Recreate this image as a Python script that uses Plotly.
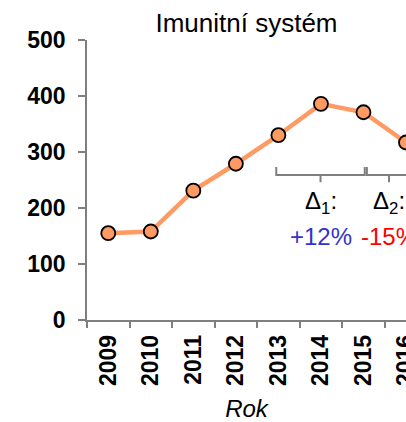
import plotly.graph_objects as go

years = ["2009", "2010", "2011", "2012", "2013", "2014", "2015", "2016"]
values = [155, 158, 231, 279, 330, 386, 371, 317]
delta_labels = ["Δ<sub>1</sub>:", "Δ<sub>2</sub>:"]
delta_values = ["+12%", "-15%"]
delta_colors = ["#3333CC", "#FF0000"]
y_ticks = [0, 100, 200, 300, 400, 500]

ORANGE = "#FF9A62"
GREY = "#7F7F7F"
FONT = "Liberation Sans, Arial, sans-serif"

fig = go.Figure()
fig.add_trace(go.Scatter(
    x=years, y=values, mode="lines+markers",
    line=dict(color=ORANGE, width=4.5),
    marker=dict(size=14, color=ORANGE, line=dict(color="black", width=1.8)),
    cliponaxis=True, showlegend=False,
))

# brackets (data coords)
brackets = [(3.95, 6.03), (6.08, 7.12)]
y_top, y_bar, y_tick = 273, 259, 246
for (x0, x1) in brackets:
    xm = (x0 + x1) / 2
    fig.add_shape(type="path",
                  path=f"M {x0},{y_top} L {x0},{y_bar} L {x1},{y_bar} L {x1},{y_top}",
                  xref="x", yref="y", line=dict(color=GREY, width=2))
    fig.add_shape(type="line", x0=xm, x1=xm, y0=y_bar, y1=y_tick,
                  xref="x", yref="y", line=dict(color=GREY, width=2))

for (x0, x1), lab, val, col in zip(brackets, delta_labels, delta_values, delta_colors):
    xm = (x0 + x1) / 2
    fig.add_annotation(x=xm, y=209, xref="x", yref="y", text=lab, showarrow=False,
                       font=dict(family=FONT, size=24, color="black"), yanchor="middle")
    fig.add_annotation(x=xm, y=149, xref="x", yref="y", text=val, showarrow=False,
                       font=dict(family=FONT, size=24, color=col), yanchor="middle")

fig.update_layout(
    width=406, height=422,
    margin=dict(l=87, r=0, t=40, b=102),
    paper_bgcolor="white", plot_bgcolor="white",
    font=dict(family=FONT, color="black"),
    title=dict(text="Imunitní systém", x=0.5, xref="paper", xanchor="center",
               y=1 - 23 / 422, yref="container", yanchor="middle",
               font=dict(family=FONT, size=26, color="black")),
    xaxis=dict(
        type="category", range=[-0.5, 7.0], automargin=False,
        showline=True, linecolor=GREY, linewidth=1.5,
        ticks="outside", ticklen=6, tickcolor=GREY, tickwidth=1.5,
        tickson="boundaries", tickangle=-90,
        tickfont=dict(family=FONT, size=23, color="black", weight="bold"),
        ticklabelstandoff=4,
        showgrid=False, zeroline=False,
        title=dict(text="<i>Rok</i>", standoff=26,
                   font=dict(family=FONT, size=24, color="black")),
    ),
    yaxis=dict(
        range=[0, 500], tickvals=y_ticks, automargin=False,
        showline=True, linecolor=GREY, linewidth=1.5,
        ticks="outside", ticklen=7, tickcolor=GREY, tickwidth=1.5,
        tickfont=dict(family=FONT, size=23, color="black", weight="bold"),
        ticklabelstandoff=8,
        showgrid=False, zeroline=False,
    ),
)

fig.write_html("out.html")
